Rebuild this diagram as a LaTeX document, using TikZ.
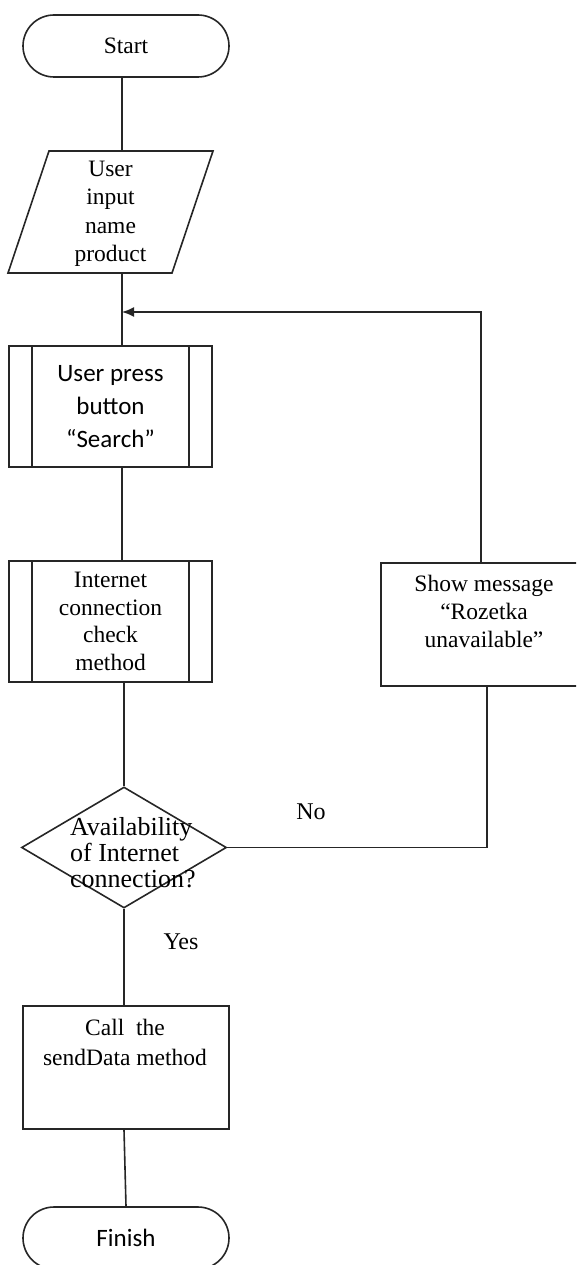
\documentclass[tikz,border=0pt]{standalone}
\usepackage{fontspec}
\setmainfont{Liberation Serif}
\newfontfamily\calfont{Carlito}
\usetikzlibrary{shapes.geometric,arrows.meta}
\begin{document}
\begin{tikzpicture}[x=1pt,y=-1pt,line width=1.6pt,draw=black!85,
  every node/.style={text=black},
  serif/.style={font=\fontsize{23.5}{28}\selectfont},
  sansf/.style={font=\calfont\fontsize{25}{33}\selectfont},
  term/.style={draw,rectangle,rounded corners=31pt,minimum width=206pt,minimum height=62pt,inner sep=0pt},
  procbox/.style={draw,rectangle,inner sep=0pt},
  lbl/.style={font=\fontsize{24}{28}\selectfont}]
\useasboundingbox (0,0) rectangle (576,1265);
\clip (0,0) rectangle (576,1265);
\coordinate (col) at (122,0);
% Start
\node[term,serif] (start) at (126,46) {Start};
% Input parallelogram
\draw (49,151) -- (213,151) -- (172,273) -- (8,273) -- cycle;
\coordinate (parN) at (122,151);
\coordinate (parS) at (122,273);
\node[align=center,font=\fontsize{23.5}{28.5}\selectfont] (par) at (110.5,214) {User\\input\\name\\product};
% Search subroutine
\node[procbox,sansf,align=center,minimum width=203pt,minimum height=121pt] (search) at (110.5,406.5) {User press\\button\\“Search”};
\draw ([xshift=24pt]search.north west) -- ([xshift=24pt]search.south west);
\draw ([xshift=-24pt]search.north east) -- ([xshift=-24pt]search.south east);
% Internet check subroutine
\node[procbox,align=center,minimum width=203pt,minimum height=121pt,font=\fontsize{23.5}{27.7}\selectfont] (inet) at (110.5,621.5) {Internet\\connection\\check\\method};
\draw ([xshift=24pt]inet.north west) -- ([xshift=24pt]inet.south west);
\draw ([xshift=-24pt]inet.north east) -- ([xshift=-24pt]inet.south east);
% Show message box
\node[procbox,minimum width=206pt,minimum height=123pt] (show) at (484,624.5) {};
\node[align=center,serif] (showtxt) at (484,611) {Show message\\“Rozetka\\unavailable”};
% Decision
\node[diamond,draw,minimum width=205pt,minimum height=121pt,inner sep=0pt] (dec) at (124,847.5) {};
\node[align=left,anchor=west,font=\fontsize{26}{26}\selectfont] (dectxt) at (66,853) {Availability\\of Internet\\connection?};
% Call box
\node[procbox,minimum width=206pt,minimum height=123pt] (call) at (126,1067.5) {};
\node[align=center,font=\fontsize{23.5}{30}\selectfont] (calltxt) at (125,1042) {Call\ \ the\\sendData method};
% Finish
\node[term,sansf] (finish) at (126,1238) {Finish};
% Merge point
\coordinate (merge) at (122,312);
% Connectors
\draw (start.south -| col) -- (parN);
\draw (parS) -- (search.north -| col);
\draw (search.south -| col) -- (inet.north -| col);
\draw (dec.north |- inet.south) -- (dec.north);
\draw (dec.south) -- (call.north -| dec.south);
\draw (call.south -| dec.south) -- (finish.north);
\draw (dec.east) -| ([xshift=3pt]show.south);
\draw[-{Latex[length=12pt,width=10pt]}] ([xshift=-3pt]show.north) |- (merge);
% Labels
\node[lbl] (nolbl) at (311,812) {No};
\node[lbl] (yeslbl) at (181,942) {Yes};
\end{tikzpicture}
\end{document}
